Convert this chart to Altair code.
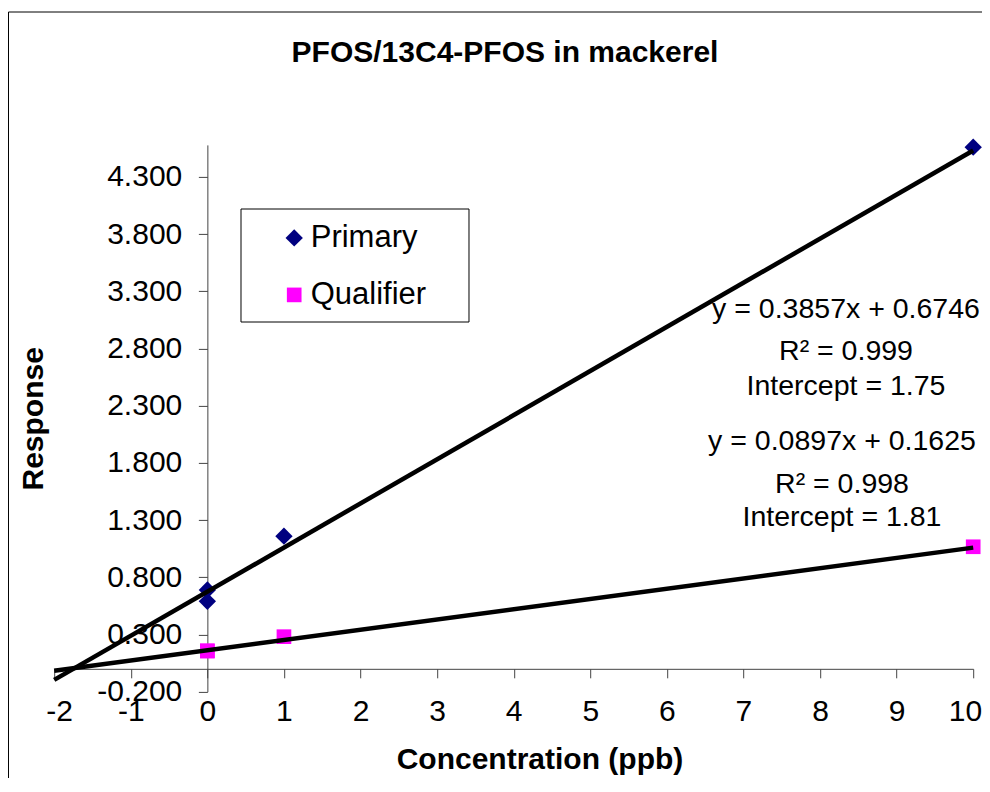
import altair as alt
import pandas as pd

# ---------------- data ----------------
series_names = ["Primary", "Qualifier"]
primary_x = [0, 0, 1, 10]
primary_y = [0.69, 0.59, 1.16, 4.56]
qualifier_x = [0, 0, 1, 10]
qualifier_y = [0.158, 0.155, 0.281, 1.067]
trend_slopes = [0.3857, 0.0897]
trend_intercepts = [0.6746, 0.1625]
trend_x_extent = [-2, 10]
x_ticks = [-2, -1, 0, 1, 2, 3, 4, 5, 6, 7, 8, 9, 10]
y_ticks = [-0.2, 0.3, 0.8, 1.3, 1.8, 2.3, 2.8, 3.3, 3.8, 4.3]
x_domain = [-2, 10]
y_domain = [-0.2, 4.58]
eq_primary = ["y = 0.3857x + 0.6746", "R² = 0.999", "Intercept = 1.75"]
eq_qualifier = ["y = 0.0897x + 0.1625", "R² = 0.998", "Intercept = 1.81"]
title_text = "PFOS/13C4-PFOS in mackerel"
x_title = "Concentration (ppb)"
y_title = "Response"
series_colors = ["#000080", "#FF00FF"]
series_shapes = ["diamond", "square"]
series_sizes = [300, 215]

FONT = "Liberation Sans"

points = pd.DataFrame(
    {"x": primary_x, "y": primary_y, "series": series_names[0]}
)
points = pd.concat(
    [points, pd.DataFrame({"x": qualifier_x, "y": qualifier_y, "series": series_names[1]})],
    ignore_index=True,
)

line_rows = []
for name, m, b in zip(series_names, trend_slopes, trend_intercepts):
    for xv in trend_x_extent:
        line_rows.append({"series": name, "x": xv, "y": m * xv + b})
lines = pd.DataFrame(line_rows)

# ---------------- layout ----------------
W, H = 919, 546.8
PAD = {"left": 46.2, "top": 136.9, "right": 8.8, "bottom": 86.3}
x0_px = W * (0 - x_domain[0]) / (x_domain[1] - x_domain[0])
y0_px = H * (0 - y_domain[0]) / (y_domain[1] - y_domain[0])

minus_fix = "replace(datum.label, '\u2212', '-')"

x_axis = alt.Axis(
    values=x_ticks, offset=-y0_px, tickSize=9, labelPadding=19,
    labelFontSize=30, labelFlush=True, labelFlushOffset=8.5,
    labelOverlap=False, grid=False, labelExpr=minus_fix,
    title=x_title, titleX=485.3, titleY=99.2, titleBaseline="alphabetic",
    titleAlign="center", titleFontSize=30, titleFontWeight="bold",
)
y_axis = alt.Axis(
    values=y_ticks, format=".3f", offset=-x0_px, tickSize=9, labelPadding=16.6,
    labelFontSize=30, labelOverlap=False, grid=False, labelExpr=minus_fix,
    title=y_title, titleX=-165, titleY=H / 2, titleAngle=270,
    titleBaseline="alphabetic", titleAlign="center", titleFontSize=30,
    titleFontWeight="bold",
)
xs = alt.Scale(domain=x_domain, nice=False, zero=False)
ys = alt.Scale(domain=y_domain, nice=False, zero=False)

legend = alt.Legend(
    title=None, orient="none", legendX=224.5, legendY=77.5, padding=0,
    labelFontSize=31, labelOffset=1, rowPadding=25, symbolSize=230,
    labelFont=FONT, labelColor="black",
)

one = alt.Data(values=[{}])

border = alt.Chart(one).mark_rect(
    fill="white", fillOpacity=0, stroke="black", strokeWidth=1
).encode(x=alt.value(-45.7), x2=alt.value(1000), y=alt.value(-132.9), y2=alt.value(700))

legend_frame = alt.Chart(one).mark_rect(
    fill="white", stroke="black", strokeWidth=1
).encode(x=alt.value(186.8), x2=alt.value(414.8), y=alt.value(64.1), y2=alt.value(177.1))

chart_title = alt.Chart(one).mark_text(
    font=FONT, fontSize=30, fontWeight="bold", align="center",
    baseline="alphabetic", color="black",
).encode(x=alt.value(450.8), y=alt.value(-82.5), text=alt.value(title_text))

pts = alt.Chart(points).mark_point(filled=True, opacity=1).encode(
    x=alt.X("x:Q", scale=xs, axis=x_axis),
    y=alt.Y("y:Q", scale=ys, axis=y_axis),
    color=alt.Color("series:N", scale=alt.Scale(domain=series_names, range=series_colors), legend=legend),
    shape=alt.Shape("series:N", scale=alt.Scale(domain=series_names, range=series_shapes), legend=legend),
    size=alt.Size("series:N", scale=alt.Scale(domain=series_names, range=series_sizes), legend=None),
)

trend = alt.Chart(lines).mark_line(color="black", strokeWidth=4.5).encode(
    x=alt.X("x:Q", scale=xs, axis=x_axis),
    y=alt.Y("y:Q", scale=ys, axis=y_axis),
    detail="series:N",
)

text_layers = []
for lines_txt, cx, ys_px in [
    (eq_primary, 791.8, [173.1, 215.1, 250.1]),
    (eq_qualifier, 787.8, [305.1, 348.1, 381.1]),
]:
    for t, yy in zip(lines_txt, ys_px):
        text_layers.append(
            alt.Chart(one).mark_text(
                font=FONT, fontSize=28.5, align="center", baseline="alphabetic", color="black"
            ).encode(x=alt.value(cx), y=alt.value(yy), text=alt.value(t))
        )

chart = alt.layer(border, legend_frame, chart_title, pts, trend, *text_layers).properties(
    width=W, height=H, padding=PAD,
    autosize=alt.AutoSizeParams(type="none"),
).configure(font=FONT, background="white").configure_view(
    stroke="transparent"
).configure_axis(
    labelFont=FONT, titleFont=FONT, labelColor="black", titleColor="black",
    domainColor="#444444", tickColor="#444444", domainWidth=1, tickWidth=1,
)

chart.save("out.html", embed_options={"renderer": "svg", "actions": False})
